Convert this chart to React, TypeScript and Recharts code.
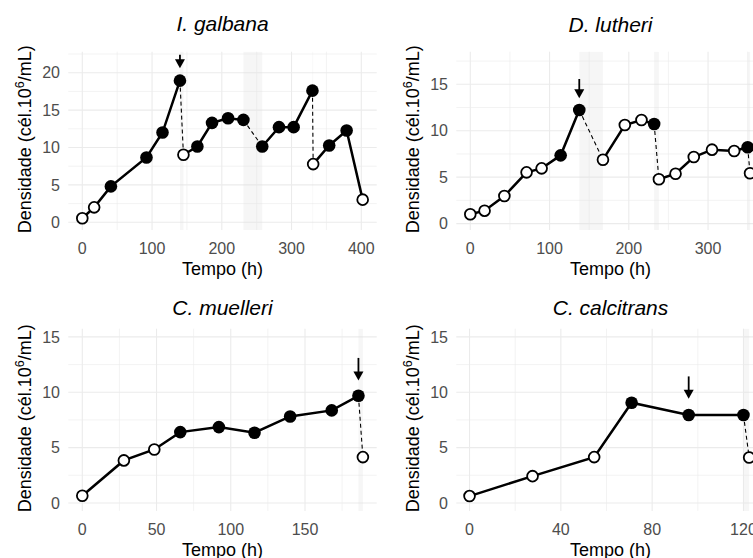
import React from "react";
import {
  ComposedChart,
  Line,
  Scatter,
  XAxis,
  YAxis,
  CartesianGrid,
  ReferenceArea,
  ReferenceLine,
} from "recharts";

const FONT = '"Liberation Sans", Arial, Helvetica, sans-serif';

// I. galbana
const galbanaHours = [0, 17, 41, 92, 115, 140, 145, 165, 186, 209, 231, 258, 282, 303, 330, 331, 354, 379, 402];
const galbanaDensity = [0.54, 2.0, 4.8, 8.67, 12.0, 18.94, 9.03, 10.14, 13.29, 13.92, 13.69, 10.14, 12.72, 12.72, 17.6, 7.78, 10.27, 12.27, 3.03];
const galbanaFilled = [0, 0, 1, 1, 1, 1, 0, 1, 1, 1, 1, 1, 1, 1, 1, 0, 1, 1, 0];
const galbanaDrops = [5, 10, 14];
const galbanaArrow = { h: 140, top: 22.4, tip: 20.6 };
const galbanaXTicks = [0, 100, 200, 300, 400];
const galbanaYTicks = [0, 5, 10, 15, 20];

// D. lutheri
const lutheriHours = [0, 18, 43, 71, 90, 114, 137.5, 167.4, 195, 216, 232, 238, 259, 282, 305, 333, 350, 353];
const lutheriDensity = [1.0, 1.39, 2.97, 5.52, 5.95, 7.35, 12.23, 6.88, 10.62, 11.16, 10.72, 4.77, 5.37, 7.17, 7.96, 7.82, 8.22, 5.42];
const lutheriFilled = [0, 0, 0, 0, 0, 1, 1, 0, 0, 0, 1, 0, 0, 0, 0, 0, 1, 0];
const lutheriDrops = [6, 10, 16];
const lutheriArrow = { h: 137.5, top: 15.57, tip: 13.49 };
const lutheriXTicks = [0, 100, 200, 300];
const lutheriYTicks = [0, 5, 10, 15];

// C. muelleri
const muelleriHours = [0, 28, 48.5, 66, 92, 116, 140, 168, 186, 189];
const muelleriDensity = [0.65, 3.84, 4.83, 6.4, 6.85, 6.34, 7.81, 8.36, 9.68, 4.14];
const muelleriFilled = [0, 0, 0, 1, 1, 1, 1, 1, 1, 0];
const muelleriDrops = [8];
const muelleriArrow = { h: 186, top: 13.1, tip: 11.07 };
const muelleriXTicks = [0, 50, 100, 150];
const muelleriYTicks = [0, 5, 10, 15];

// C. calcitrans
const calcitransHours = [0, 27.6, 54.6, 71, 96, 120, 122.5];
const calcitransDensity = [0.62, 2.42, 4.14, 9.05, 7.95, 7.95, 4.1];
const calcitransFilled = [0, 0, 0, 1, 1, 1, 0];
const calcitransDrops = [5];
const calcitransArrow = { h: 96, top: 11.43, tip: 9.41 };
const calcitransXTicks = [0, 40, 80, 120];
const calcitransYTicks = [0, 5, 10, 15];

type Pt = { h: number; y: number; filled: boolean };

function buildPoints(hours: number[], density: number[], filled: number[]): Pt[] {
  return hours.map((h, i) => ({ h, y: density[i], filled: filled[i] === 1 }));
}

// solid segments between the dilution drops
function solidRuns(points: Pt[], drops: number[]): Pt[][] {
  const runs: Pt[][] = [];
  let start = 0;
  for (const d of [...drops, points.length - 1]) {
    runs.push(points.slice(start, d + 1));
    start = d + 1;
  }
  return runs.filter((r) => r.length > 1);
}

function minorTicks(ticks: number[], domain: [number, number]) {
  const step = ticks[1] - ticks[0];
  const out: number[] = [];
  for (let k = Math.floor(domain[0] / step) - 1; k * step <= domain[1]; k++) {
    const v = k * step + step / 2;
    if (v > domain[0] && v < domain[1]) out.push(v);
  }
  return out;
}

function Dot(props: any) {
  const { cx, cy, payload } = props;
  if (payload.filled) return <circle cx={cx} cy={cy} r={6.3} fill="#000" />;
  return <circle cx={cx} cy={cy} r={5.4} fill="#fff" stroke="#000" strokeWidth={1.8} />;
}

function ArrowShape(props: any) {
  const { x1, y1, x2, y2 } = props;
  const head = 9;
  const half = 5;
  return (
    <g>
      <line x1={x1} y1={y1} x2={x2} y2={y2 - head + 1} stroke="#000" strokeWidth={1.8} />
      <polygon points={`${x2 - half},${y2 - head} ${x2 + half},${y2 - head} ${x2},${y2}`} fill="#000" />
    </g>
  );
}

const W = 390;
const H = 280;
const Y_AXIS_W = 40;
const X_AXIS_H = 40;

type PanelProps = {
  title: string;
  hours: number[];
  density: number[];
  filled: number[];
  drops: number[];
  arrow: { h: number; top: number; tip: number };
  xTicks: number[];
  yTicks: number[];
  xDomain: [number, number];
  yDomain: [number, number];
  left: number;
  top: number;
  plotBottom: number;
  titleY: number;
};

const PLOT_TOP = 51.7;
const PLOT_LEFT = 68.3;
const PLOT_RIGHT = 376.7;

function Panel(p: PanelProps) {
  const points = buildPoints(p.hours, p.density, p.filled);
  const runs = solidRuns(points, p.drops);
  const margin = {
    top: PLOT_TOP,
    left: PLOT_LEFT - Y_AXIS_W,
    right: W - PLOT_RIGHT,
    bottom: H - X_AXIS_H - p.plotBottom,
  };
  const cx = (PLOT_LEFT + PLOT_RIGHT) / 2;
  const cy = (PLOT_TOP + p.plotBottom) / 2 - 1.5;

  return (
    <div style={{ position: "absolute", left: p.left, top: p.top, width: W, height: H }}>
      <ComposedChart width={W} height={H} margin={margin}>
        <CartesianGrid
          stroke="#ebebeb"
          strokeWidth={0.6}
          horizontalValues={minorTicks(p.yTicks, p.yDomain)}
          verticalValues={minorTicks(p.xTicks, p.xDomain)}
        />
        <CartesianGrid stroke="#ebebeb" strokeWidth={1.1} horizontalValues={p.yTicks} verticalValues={p.xTicks} />
        <XAxis
          type="number"
          dataKey="h"
          domain={p.xDomain}
          ticks={p.xTicks}
          allowDataOverflow
          axisLine={false}
          tickLine={false}
          tickSize={0}
          tickMargin={12.7}
          height={X_AXIS_H}
          interval={0}
          tick={{ fontSize: 16, fill: "#4d4d4d", fontFamily: FONT }}
        />
        <YAxis
          type="number"
          dataKey="y"
          domain={p.yDomain}
          ticks={p.yTicks}
          allowDataOverflow
          axisLine={false}
          tickLine={false}
          tickSize={0}
          tickMargin={8.3}
          width={Y_AXIS_W}
          interval={0}
          tick={{ fontSize: 16, fill: "#4d4d4d", fontFamily: FONT }}
        />
        {p.drops.map((d) => (
          <ReferenceArea
            key={`band-${d}`}
            x1={p.hours[d]}
            x2={p.hours[d + 1]}
            fill="#e0e0e0"
            fillOpacity={0.3}
            stroke="none"
            ifOverflow="hidden"
          />
        ))}
        {p.drops.map((d) => (
          <Line
            key={`drop-${d}`}
            data={[points[d], points[d + 1]]}
            dataKey="y"
            type="linear"
            stroke="#000"
            strokeWidth={1.1}
            strokeDasharray="4 3"
            dot={false}
            activeDot={false}
            isAnimationActive={false}
          />
        ))}
        {runs.map((run, i) => (
          <Line
            key={`run-${i}`}
            data={run}
            dataKey="y"
            type="linear"
            stroke="#000"
            strokeWidth={2.5}
            dot={false}
            activeDot={false}
            isAnimationActive={false}
          />
        ))}
        <Scatter data={points} dataKey="y" shape={Dot} isAnimationActive={false} />
        <ReferenceLine
          segment={[
            { x: p.arrow.h, y: p.arrow.top },
            { x: p.arrow.h, y: p.arrow.tip },
          ]}
          shape={ArrowShape}
          ifOverflow="visible"
        />
      </ComposedChart>
      <svg
        width={W}
        height={H}
        style={{ position: "absolute", left: 0, top: 0, pointerEvents: "none", overflow: "visible" }}
      >
        <text x={cx} y={p.titleY} textAnchor="middle" fontSize={21} fontStyle="italic" fontFamily={FONT} fill="#000">
          {p.title}
        </text>
        <text x={cx} y={p.plotBottom + 45} textAnchor="middle" fontSize={18} fontFamily={FONT} fill="#000">
          Tempo (h)
        </text>
        <text
          transform={`translate(31,${cy}) rotate(-90)`}
          textAnchor="middle"
          fontSize={18}
          fontFamily={FONT}
          fill="#000"
        >
          Densidade (cél.10
          <tspan dy={-7} fontSize={12.5}>
            6
          </tspan>
          <tspan dy={7}>/mL)</tspan>
        </text>
      </svg>
    </div>
  );
}

export default function App() {
  return (
    <div
      style={{
        position: "fixed",
        left: 0,
        top: 0,
        width: 753,
        height: 558,
        overflow: "hidden",
        background: "#fff",
      }}
    >
      <Panel
        title="I. galbana"
        hours={galbanaHours}
        density={galbanaDensity}
        filled={galbanaFilled}
        drops={galbanaDrops}
        arrow={galbanaArrow}
        xTicks={galbanaXTicks}
        yTicks={galbanaYTicks}
        xDomain={[-20.07, 422.1]}
        yDomain={[-1.03, 22.81]}
        left={0}
        top={0}
        plotBottom={230}
        titleY={31.3}
      />
      <Panel
        title="D. lutheri"
        hours={lutheriHours}
        density={lutheriDensity}
        filled={lutheriFilled}
        drops={lutheriDrops}
        arrow={lutheriArrow}
        xTicks={lutheriXTicks}
        yTicks={lutheriYTicks}
        xDomain={[-17.67, 371.5]}
        yDomain={[-0.69, 18.51]}
        left={387.7}
        top={0}
        plotBottom={230}
        titleY={31.5}
      />
      <Panel
        title="C. muelleri"
        hours={muelleriHours}
        density={muelleriDensity}
        filled={muelleriFilled}
        drops={muelleriDrops}
        arrow={muelleriArrow}
        xTicks={muelleriXTicks}
        yTicks={muelleriYTicks}
        xDomain={[-9.43, 198.3]}
        yDomain={[-0.72, 15.74]}
        left={0}
        top={276.6}
        plotBottom={233.9}
        titleY={38.4}
      />
      <Panel
        title="C. calcitrans"
        hours={calcitransHours}
        density={calcitransDensity}
        filled={calcitransFilled}
        drops={calcitransDrops}
        arrow={calcitransArrow}
        xTicks={calcitransXTicks}
        yTicks={calcitransYTicks}
        xDomain={[-5.8, 129.3]}
        yDomain={[-0.72, 15.74]}
        left={387.7}
        top={276.6}
        plotBottom={233.9}
        titleY={38.4}
      />
    </div>
  );
}
